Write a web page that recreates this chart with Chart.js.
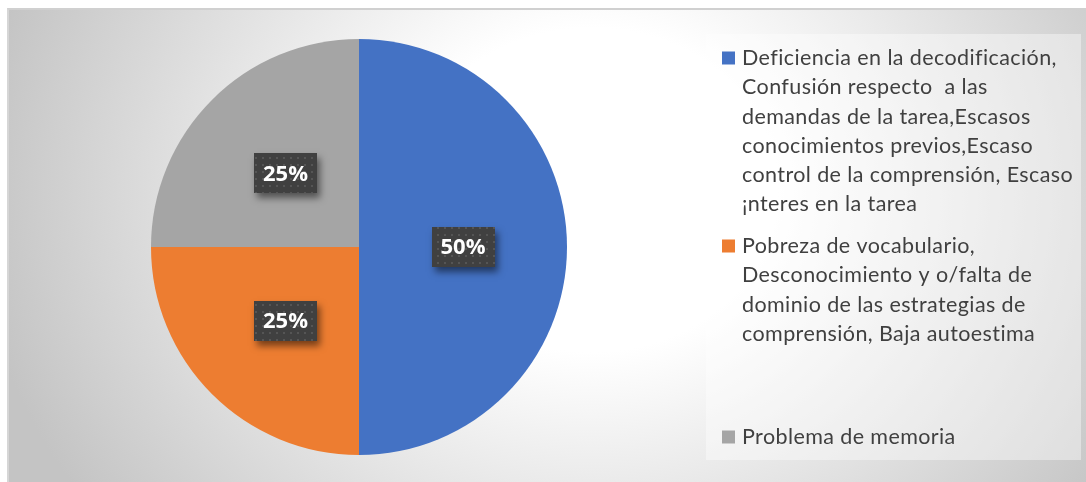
<!DOCTYPE html>
<html>
<head>
<meta charset="utf-8">
<script src="https://cdn.jsdelivr.net/npm/chart.js@4.4.1/dist/chart.umd.min.js"></script>
<style>
  html, body { margin: 0; padding: 0; background: #ffffff; }
  #wrap { position: relative; width: 1086px; height: 482px; overflow: hidden; }
  #bg {
    position: absolute; left: 7px; top: 8px; width: 1079px; height: 474px;
    box-sizing: border-box;
    border-top: 2px solid #d0d0d0; border-left: 2px solid #d6d6d6;
    background: radial-gradient(ellipse 620px 540px at 583px 180px, #ffffff 0%, #ffffff 30%, #c4c4c4 100%);
  }
  canvas { position: absolute; left: 0; top: 0; }
</style>
</head>
<body>
<div id="wrap">
  <div id="bg"></div>
  <canvas id="c" width="1086" height="482"></canvas>
</div>
<script>
// ---- data ----
const categories = [
  ["Deficiencia en la decodificación,", "Confusión respecto  a las", "demandas de la tarea,Escasos", "conocimientos previos,Escaso", "control de la comprensión, Escaso", "¡nteres en la tarea"],
  ["Pobreza de vocabulario,", "Desconocimiento y o/falta de", "dominio de las estrategias de", "comprensión, Baja autoestima"],
  ["Problema de memoria"]
];
const values = [50, 25, 25];
const sliceColors = ["#4472C4", "#ED7D31", "#A5A5A5"];

// ---- layout constants ----
const legendBox = { x: 706, y: 34, w: 375, h: 426 };
const legendMarkerX = 722, legendTextX = 742, legendLineH = 29.3;
const legendFirstLineY = [58, 246, 437];

function makeDotPattern(ctx) {
  const p = document.createElement('canvas');
  p.width = 7; p.height = 7;
  const pc = p.getContext('2d');
  pc.fillStyle = '#404040';
  pc.fillRect(0, 0, 7, 7);
  pc.fillStyle = '#555555';
  pc.fillRect(3, 3, 2, 2);
  return ctx.createPattern(p, 'repeat');
}

const customDraw = {
  id: 'customDraw',
  beforeDraw(chart) {
    const ctx = chart.ctx;
    ctx.save();
    ctx.fillStyle = 'rgba(255,255,255,0.4)';
    ctx.fillRect(legendBox.x, legendBox.y, legendBox.w, legendBox.h);
    ctx.restore();
  },
  afterDatasetsDraw(chart) {
    const ctx = chart.ctx;
    const meta = chart.getDatasetMeta(0);
    const data = chart.data.datasets[0].data;
    const total = data.reduce((a, b) => a + b, 0);
    const pattern = makeDotPattern(ctx);
    meta.data.forEach((arc, i) => {
      const pos = arc.tooltipPosition();
      const w = 63, h = 40;
      const bx = Math.round(pos.x - w / 2), by = Math.round(pos.y - h / 2);
      ctx.save();
      ctx.shadowColor = 'rgba(0,0,0,0.5)';
      ctx.shadowBlur = 7;
      ctx.shadowOffsetX = 3;
      ctx.shadowOffsetY = 5;
      ctx.fillStyle = '#404040';
      ctx.fillRect(bx, by, w, h);
      ctx.restore();
      ctx.save();
      ctx.fillStyle = pattern;
      ctx.fillRect(bx, by, w, h);
      ctx.fillStyle = '#ffffff';
      ctx.font = 'bold 22px "Open Sans"';
      ctx.textAlign = 'center';
      ctx.textBaseline = 'middle';
      ctx.fillText(Math.round(data[i] / total * 100) + '%', pos.x, pos.y + 1);
      ctx.restore();
    });
  },
  afterDraw(chart) {
    const ctx = chart.ctx;
    const labels = chart.data.labels;
    const colors = chart.data.datasets[0].backgroundColor;
    ctx.save();
    ctx.font = '21.5px Lato';
    if ('letterSpacing' in ctx) ctx.letterSpacing = '0.4px';
    ctx.textBaseline = 'middle';
    labels.forEach((lines, i) => {
      const y0 = legendFirstLineY[i];
      ctx.fillStyle = colors[i];
      ctx.fillRect(legendMarkerX, y0 - 6.5, 13, 13);
      ctx.fillStyle = '#404040';
      lines.forEach((ln, j) => ctx.fillText(ln, legendTextX, y0 + j * legendLineH));
    });
    ctx.restore();
  }
};

new Chart(document.getElementById('c'), {
  type: 'pie',
  data: {
    labels: categories,
    datasets: [{
      data: values,
      backgroundColor: sliceColors,
      borderWidth: 0,
      hoverOffset: 0,
      offset: 0
    }]
  },
  options: {
    responsive: false,
    animation: false,
    layout: { padding: { left: 151, right: 519, top: 39, bottom: 27 } },
    plugins: {
      legend: { display: false },
      tooltip: { enabled: false }
    }
  },
  plugins: [customDraw]
});
</script>
</body>
</html>
